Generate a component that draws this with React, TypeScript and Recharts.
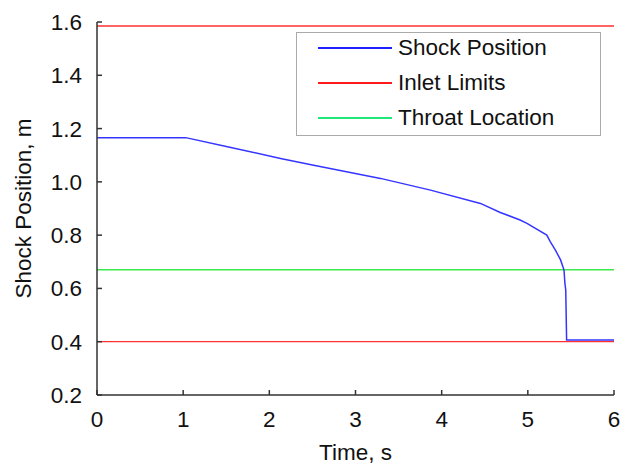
import { LineChart, Line, XAxis, YAxis } from "recharts";

const time = [0, 1.03, 1.5, 2.13, 2.5, 3.29, 3.87, 4.45, 4.68, 4.91, 4.99, 5.22, 5.26, 5.32, 5.38, 5.42, 5.43, 5.44, 5.45, 6];
const shock = [1.166, 1.166, 1.133, 1.088, 1.063, 1.013, 0.969, 0.919, 0.885, 0.857, 0.844, 0.8, 0.776, 0.744, 0.707, 0.669, 0.62, 0.594, 0.406, 0.406];

const inletUpper = 1.585;
const inletLower = 0.4;
const throat = 0.67;
const xRange = [0, 6];

const xTicks = [0, 1, 2, 3, 4, 5, 6];
const yTicks = [0.2, 0.4, 0.6, 0.8, 1.0, 1.2, 1.4, 1.6];

const shockData = time.map((t, i) => ({ t, v: shock[i] }));
const upperData = xRange.map((t) => ({ t, v: inletUpper }));
const lowerData = xRange.map((t) => ({ t, v: inletLower }));
const throatData = xRange.map((t) => ({ t, v: throat }));

const legendItems = [
  { label: "Shock Position", color: "#1f1fff" },
  { label: "Inlet Limits", color: "#ff1a1a" },
  { label: "Throat Location", color: "#1ee878" },
];

const font = "'Liberation Sans', Arial, sans-serif";
const fs = 22.5;
const axisColor = "#333";
const tickFont = { fontSize: fs, fill: "#111", fontFamily: font };

const App = () => {
  return (
    <div style={{ position: "absolute", left: 0, top: 0, width: 621, height: 465, background: "#fff" }}>
      <LineChart width={621} height={465} data={shockData} margin={{ top: 22, right: 7, left: 0, bottom: 0 }}>
        <XAxis
          dataKey="t"
          type="number"
          domain={[0, 6]}
          ticks={xTicks}
          height={70}
          tickSize={-5}
          tickMargin={21}
          tick={tickFont}
          stroke={axisColor}
          strokeWidth={1.5}
          label={{
            content: ({ viewBox }: any) => (
              <text x={viewBox.x + viewBox.width / 2} y={viewBox.y + 57} textAnchor="middle" dominantBaseline="central" fontSize={fs} fontFamily={font} fill="#111">
                Time, s
              </text>
            ),
          }}
        />
        <XAxis xAxisId="top" orientation="top" type="number" domain={[0, 6]} ticks={xTicks} height={0} tickSize={-5} tick={false} stroke={axisColor} strokeWidth={1.5} />
        <YAxis
          type="number"
          domain={[0.2, 1.6]}
          ticks={yTicks}
          width={97}
          tickSize={-5}
          tickMargin={20}
          tick={tickFont}
          tickFormatter={(v: number) => v.toFixed(1)}
          stroke={axisColor}
          strokeWidth={1.5}
          label={{
            content: ({ viewBox }: any) => {
              const cx = viewBox.x + 23;
              const cy = viewBox.y + viewBox.height / 2;
              return (
                <text x={cx} y={cy} transform={`rotate(-90, ${cx}, ${cy})`} textAnchor="middle" dominantBaseline="central" fontSize={fs} fontFamily={font} fill="#111">
                  Shock Position, m
                </text>
              );
            },
          }}
        />
        <YAxis yAxisId="right" orientation="right" type="number" domain={[0.2, 1.6]} ticks={yTicks} width={0} tickSize={-5} tick={false} stroke={axisColor} strokeWidth={1.5} />
        <Line data={upperData} dataKey="v" stroke="#ff3030" strokeWidth={1.3} dot={false} isAnimationActive={false} />
        <Line data={lowerData} dataKey="v" stroke="#ff3030" strokeWidth={1.3} dot={false} isAnimationActive={false} />
        <Line data={throatData} dataKey="v" stroke="#3aea4a" strokeWidth={1.5} dot={false} isAnimationActive={false} />
        <Line dataKey="v" type="linear" stroke="#3535ff" strokeWidth={1.5} dot={false} isAnimationActive={false} />
      </LineChart>
      <div
        style={{
          position: "absolute",
          left: 296,
          top: 32,
          width: 303,
          height: 102,
          border: "1px solid #aaa",
          background: "#fff",
          fontFamily: font,
          fontSize: fs,
          color: "#111",
        }}
      >
        {legendItems.map((item, i) => (
          <div key={item.label} style={{ position: "absolute", left: 21, top: 1 + i * 35, height: 28, display: "flex", alignItems: "center", whiteSpace: "nowrap" }}>
            <span style={{ display: "inline-block", width: 74, height: 2, background: item.color, marginRight: 6 }} />
            {item.label}
          </div>
        ))}
      </div>
    </div>
  );
};

export default App;
